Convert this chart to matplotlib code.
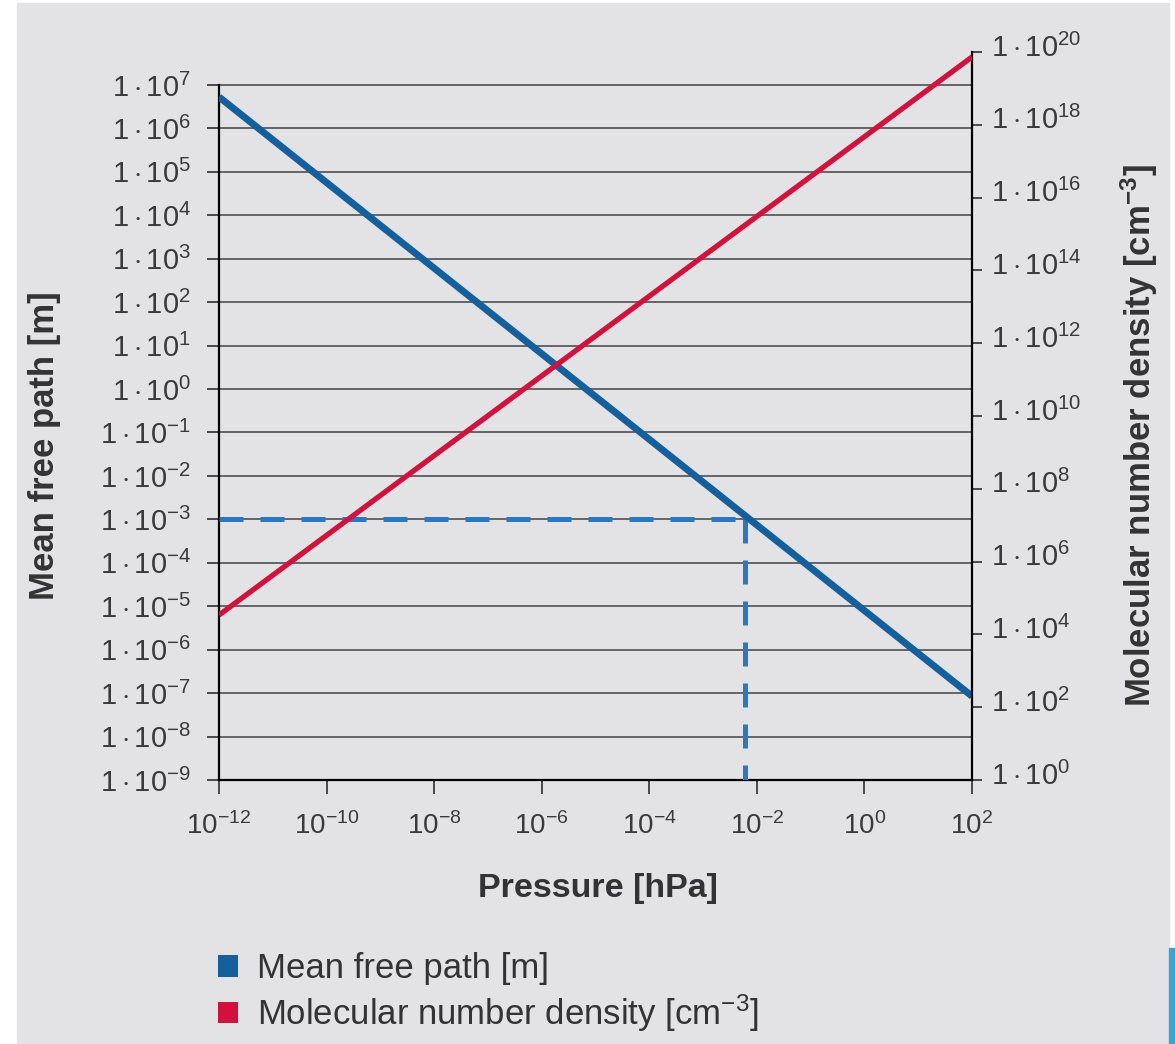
import matplotlib
matplotlib.use("Agg")
import matplotlib.pyplot as plt
import matplotlib.transforms as mtransforms
from matplotlib.patches import Rectangle, Patch

plt.rcParams['font.family'] = ['Liberation Sans', 'DejaVu Sans']
plt.rcParams['mathtext.fontset'] = 'custom'
plt.rcParams['mathtext.rm'] = 'Liberation Sans'
plt.rcParams['mathtext.it'] = 'Liberation Sans:italic'
plt.rcParams['mathtext.bf'] = 'Liberation Sans:bold'

# Daten
pressure = [1e-12, 1e2]                 # hPa
mean_free_path = [5.3e6, 8.5e-8]        # m
number_density = [3.4e4, 7.3e19]        # cm^-3

# Beispiel: 1e-3 m bei ca. 6e-3 hPa
example_path = 1e-3
example_pressure = 6e-3

left_exps = list(range(-9, 8))
right_exps = list(range(0, 21, 2))
x_exps = list(range(-12, 3, 2))

blue = '#14609f'
red = '#d2123c'
dash_blue = '#2b78c2'
grey_txt = '#3a3a3a'

fig = plt.figure(figsize=(11.75, 10.44), dpi=100, facecolor='white')
fig.patches.append(Rectangle((17 / 1175, 0), (1169 - 17) / 1175, 1041 / 1044,
                             transform=fig.transFigure, color='#e3e3e5', zorder=-10))
fig.patches.append(Rectangle((1169 / 1175, 0), 6 / 1175, 96 / 1044,
                             transform=fig.transFigure, color='#3aa6cf', zorder=-10))

ax = fig.add_axes([0.18638, 0.25287, 0.64085, 0.69732])
ax.set_facecolor('none')
ax.set_xscale('log')
ax.set_yscale('log')
ax.set_xlim(1e-12, 1e2)
ax.set_ylim(1e-9, 10 ** 7.759)

ax2 = ax.twinx()
ax2.set_yscale('log')
ax2.set_ylim(1e0, 1e20)
ax2.set_facecolor('none')

# Gitterlinien und Ticks
ax.set_yticks([10.0 ** e for e in left_exps])
ax.set_yticklabels([r'$1\cdot10^{%d}$' % e for e in left_exps])
ax.yaxis.grid(True, color='#505050', lw=1.2)
ax.set_axisbelow(True)
ax.set_xticks([10.0 ** e for e in x_exps])
ax.set_xticklabels([r'$10^{%d}$' % e for e in x_exps])
ax.minorticks_off()

ax2.set_yticks([10.0 ** e for e in right_exps])
ax2.set_yticklabels([r'$1\cdot10^{%d}$' % e for e in right_exps])
ax2.minorticks_off()

for s in ['top', 'right']:
    ax.spines[s].set_visible(False)
for s in ['top', 'left', 'bottom']:
    ax2.spines[s].set_visible(False)
ax.spines['left'].set_bounds(1e-9, 1e7)
ax.spines['left'].set_linewidth(1.6)
ax.spines['bottom'].set_linewidth(1.6)
ax2.spines['right'].set_linewidth(1.6)

ax.tick_params(axis='y', length=9, width=1.2, color='#303030', pad=11,
               labelsize=21, labelcolor=grey_txt)
ax.tick_params(axis='x', length=10, width=1.2, color='#303030', pad=13,
               labelsize=20, labelcolor=grey_txt)
ax2.tick_params(axis='y', length=7, width=1.2, color='#303030', pad=7,
                labelsize=21, labelcolor=grey_txt)

# rechte Beschriftungen sitzen etwas oberhalb der Ticks
shift = mtransforms.ScaledTranslation(0, 7 / 100, fig.dpi_scale_trans)
for lab in ax2.get_yticklabels():
    lab.set_transform(lab.get_transform() + shift)

# Linien
ax.plot([pressure[0], example_pressure], [example_path, example_path],
        color=dash_blue, lw=3.6, dashes=(4.8, 3.4), solid_capstyle='butt', zorder=3)
ax.plot([example_pressure, example_pressure], [example_path, 1e-9],
        color=dash_blue, lw=3.6, dashes=(4.8, 3.4), solid_capstyle='butt', zorder=3)
ax.plot(pressure, mean_free_path, color=blue, lw=5, solid_capstyle='butt', zorder=4)
ax2.plot(pressure, number_density, color=red, lw=3.8, solid_capstyle='butt', zorder=4)

# Achsentitel
fig.text(45 / 1175, 1 - 446 / 1044, 'Mean free path [m]', rotation=90, ha='center', va='center',
         fontsize=25, fontweight='bold', color='#333333')
fig.text(1139 / 1175, 1 - 436 / 1044, r'Molecular number density [cm$^{\mathbf{-3}}$]',
         rotation=90, ha='center', va='center', fontsize=25, fontweight='bold', color='#333333')
fig.text(598 / 1175, 1 - 888 / 1044, 'Pressure [hPa]', ha='center', va='center',
         fontsize=24.5, fontweight='bold', color='#333333')

# Legende
handles = [Patch(facecolor=blue, edgecolor='none'), Patch(facecolor=red, edgecolor='none')]
labels = ['Mean free path [m]', r'Molecular number density [cm$^{-3}$]']
fig.legend(handles, labels, loc='upper left', bbox_to_anchor=(187 / 1175, 1 - 921 / 1044),
           frameon=False, fontsize=25, handlelength=0.57, handleheight=0.57,
           handletextpad=0.55, labelspacing=0.2, labelcolor='#333333')

fig.savefig('out.png', dpi=100, facecolor='white')
